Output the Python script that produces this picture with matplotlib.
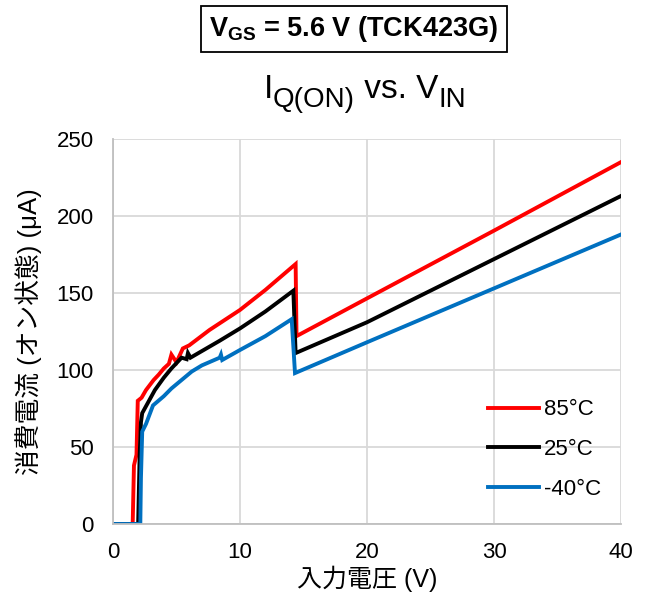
import matplotlib
matplotlib.use("Agg")
import matplotlib.pyplot as plt

plt.rcParams['font.family'] = ['Liberation Sans', 'Noto Sans CJK JP', 'DejaVu Sans']
plt.rcParams['mathtext.fontset'] = 'custom'
plt.rcParams['mathtext.rm'] = 'Liberation Sans'
plt.rcParams['mathtext.it'] = 'Liberation Sans:italic'
plt.rcParams['mathtext.bf'] = 'Liberation Sans:bold'

# Data (V_IN in V, I_Q(ON) in uA)
x_85 = [0, 1.55, 1.65, 1.85, 1.95, 2.25, 2.6, 3.2, 3.6, 4.0, 4.4, 4.6, 5.0, 5.5, 6.0, 7.6, 10.0, 12.0, 14.38, 14.45, 20.0, 30.0, 40.0]
y_85 = [0, 0, 38, 45, 80, 82, 87, 93.5, 97, 101, 104, 110, 105, 114, 116, 126, 139, 152, 168.8, 122, 146.5, 190.5, 235]

x_25 = [0, 1.98, 2.1, 2.2, 2.3, 2.7, 3.3, 4.0, 4.6, 5.4, 5.8, 5.9, 6.1, 8.4, 10.0, 12.0, 14.2, 14.38, 20.0, 30.0, 40.0]
y_25 = [0, 0, 45, 66, 72, 78, 87, 95, 101, 108, 107, 111, 108, 119, 127, 138, 151.5, 111, 131, 172, 213]

x_m40 = [0, 2.15, 2.2, 2.3, 2.6, 3.15, 4.0, 4.6, 5.4, 6.2, 7.0, 8.4, 8.5, 8.6, 10.0, 12.0, 14.07, 14.33, 20.0, 30.0, 40.0]
y_m40 = [0, 0, 30, 60, 65, 77, 83, 88, 93.5, 99, 103, 108, 110, 106.5, 113, 122, 133, 98, 118, 153, 188]

labels = ['85°C', '25°C', '-40°C']
colors = ['#FF0000', '#000000', '#0070C0']

x_ticks = [0, 10, 20, 30, 40]
y_ticks = [0, 50, 100, 150, 200, 250]

W, H = 649, 597
fig = plt.figure(figsize=(W/100, H/100), dpi=100)
ax = fig.add_axes([113/W, 1-524/H, (621-113)/W, (524-139)/H])

for xs, ys, lab, col in zip([x_85, x_25, x_m40], [y_85, y_25, y_m40], labels, colors):
    ax.plot(xs, ys, color=col, lw=2.8, label=lab, solid_joinstyle='miter')

ax.set_xlim(0, 40)
ax.set_ylim(0, 250)
ax.set_xticks(x_ticks)
ax.set_yticks(y_ticks)
ax.tick_params(length=0, labelsize=16)
ax.tick_params(axis='y', pad=14)
ax.tick_params(axis='x', pad=13)
ax.grid(True, color='#D9D9D9', lw=1.3)
ax.set_axisbelow(True)
for s in ['top', 'right']:
    ax.spines[s].set_visible(False)
for s in ['left', 'bottom']:
    ax.spines[s].set_color('#BFBFBF')
    ax.spines[s].set_linewidth(1.3)

ax.set_xlabel('入力電圧 (V)', fontsize=18)
ax.xaxis.set_label_coords(0.5, (524-566)/385)
ax.set_ylabel('消費電流 (オン状態) (μA)', fontsize=18.5)
ax.yaxis.set_label_coords((42-113)/508, 0.5)

leg = ax.legend(loc='lower right', frameon=False, fontsize=16, handlelength=2.3,
                labelspacing=0.85, handletextpad=0.2, bbox_to_anchor=(1.0, 0.01))

fig.text(354/W, 1-29/H, r'V$_{\mathbf{GS}}$ = 5.6 V (TCK423G)', fontsize=19.5,
         fontweight='bold', ha='center', va='center',
         bbox=dict(boxstyle='square,pad=0.3', facecolor='white', edgecolor='black', lw=1.3))

# Title composed of pieces so the subscripts keep their larger relative size
pieces = [('I', 24, 0), ('Q(ON)', 20, -9), (' vs. V', 24, 0), ('IN', 20, -9)]
renderer = fig.canvas.get_renderer()
texts = []
for s, fs, dy in pieces:
    t = fig.text(0, 0, s, fontsize=fs, ha='left', va='baseline')
    texts.append((t, dy))
widths = [t.get_window_extent(renderer).width for t, _ in texts]
total = sum(widths)
x0 = 365 - total / 2
base = H - 98
for (t, dy), w in zip(texts, widths):
    t.set_position((x0 / W, (base + dy) / H))
    x0 += w

fig.savefig('out.png', dpi=100)
